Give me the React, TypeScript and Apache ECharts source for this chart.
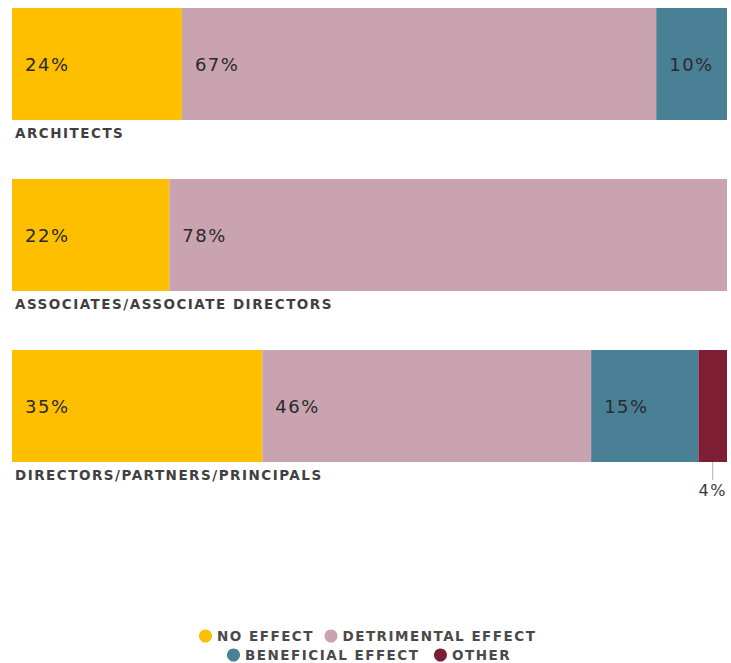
import React, { useEffect, useRef } from "react";
import * as echarts from "echarts";

const categories = ["ARCHITECTS", "ASSOCIATES/ASSOCIATE DIRECTORS", "DIRECTORS/PARTNERS/PRINCIPALS"];
const seriesNames = ["NO EFFECT", "DETRIMENTAL EFFECT", "BENEFICIAL EFFECT", "OTHER"];
const noEffect = [24, 22, 35];
const detrimental = [67, 78, 46];
const beneficial = [10, 0, 15];
const other = [0, 0, 4];

const colors = ["#FDBF00", "#C9A3B0", "#4A8096", "#7E1E34"];
const FONT = "DejaVu Sans";

export default function App() {
  const ref = useRef<HTMLDivElement>(null);
  useEffect(() => {
    if (!ref.current) return;
    const chart = echarts.init(ref.current, null, { renderer: "svg" });
    const values = [noEffect, detrimental, beneficial, other];
    const tops = [8, 179, 350];
    const barH = 112;
    const grids = tops.map((t) => ({ left: 12, right: 4, top: t, height: barH }));
    const xAxes = categories.map((_, i) => ({
      type: "value",
      gridIndex: i,
      min: 0,
      max: values.reduce((s, arr) => s + arr[i], 0),
      show: false,
    }));
    const yAxes = categories.map((c, i) => ({
      type: "category",
      gridIndex: i,
      data: [c],
      show: false,
    }));
    const series: any[] = [];
    categories.forEach((_, gi) => {
      seriesNames.forEach((name, si) => {
        const v = values[si][gi];
        const small = v > 0 && v < 5;
        series.push({
          type: "bar",
          name,
          xAxisIndex: gi,
          yAxisIndex: gi,
          stack: "s" + gi,
          barWidth: barH,
          data: [v > 0 ? v : null],
          itemStyle: { color: colors[si] },
          label: small
            ? {
                show: true,
                position: "bottom",
                distance: 0,
                formatter: "{line|}\n{t|{c}%}",
                rich: {
                  line: { width: 1, height: 18, backgroundColor: "#b0b0b0", align: "center" },
                  t: { fontFamily: FONT, fontSize: 16, color: "#3a3a3a", padding: [2, 0, 0, 0], align: "center" },
                },
              }
            : {
                show: true,
                position: "insideLeft",
                distance: 13,
                formatter: "{c}%",
                fontFamily: FONT,
                fontSize: 18,
                color: "#2a2a2a",
              },
        });
      });
    });
    const legendText = { fontFamily: FONT, fontSize: 13.5, fontWeight: "bold", color: "#4a4a4a" };
    chart.setOption({
      animation: false,
      color: colors,
      grid: grids,
      xAxis: xAxes,
      yAxis: yAxes,
      title: categories.map((c, i) => ({
        text: c,
        left: 10,
        top: tops[i] + barH + 1,
        textStyle: { fontFamily: FONT, fontSize: 13.5, fontWeight: "bold", color: "#404040" },
      })),
      legend: [
        {
          data: seriesNames.slice(0, 2),
          top: 624,
          left: 194,
          icon: "circle",
          itemWidth: 13,
          itemHeight: 13,
          itemGap: 24,
          textStyle: legendText,
        },
        {
          data: seriesNames.slice(2),
          top: 643,
          left: 222,
          icon: "circle",
          itemWidth: 13,
          itemHeight: 13,
          itemGap: 40,
          textStyle: legendText,
        },
      ],
      series,
    });
    return () => chart.dispose();
  }, []);
  return (
    <div
      ref={ref}
      style={{ width: 731, height: 663, position: "absolute", left: 0, top: 0, letterSpacing: "1.5px" }}
    />
  );
}
